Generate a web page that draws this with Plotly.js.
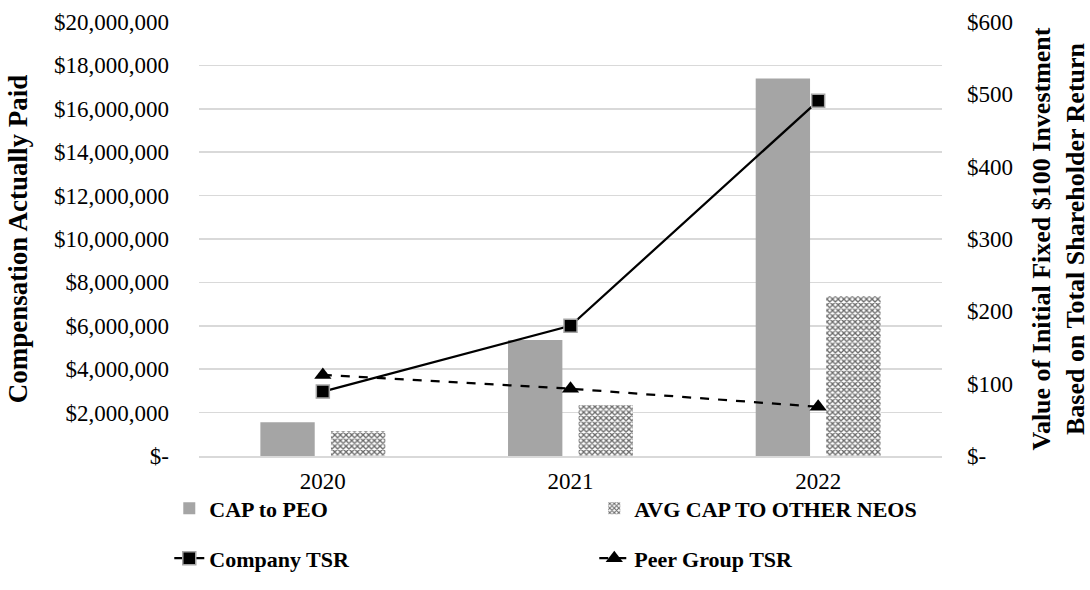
<!DOCTYPE html>
<html>
<head>
<meta charset="utf-8">
<script src="https://cdn.plot.ly/plotly-3.0.1.min.js"></script>
<style>html,body{margin:0;padding:0;background:#fff;}#chart{width:1090px;height:590px;}</style>
</head>
<body>
<div id="chart"></div>
<script>
const years = ["2020", "2021", "2022"];
const capToPeo = [1550000, 5340000, 17400000];
const avgCapOtherNeos = [1140000, 2340000, 7370000];
const companyTsr = [89, 180, 491];
const peerGroupTsr = [112, 93, 68];

const leftTickVals = [0, 2000000, 4000000, 6000000, 8000000, 10000000, 12000000, 14000000, 16000000, 18000000, 20000000];
const leftTickText = ["$-", "$2,000,000", "$4,000,000", "$6,000,000", "$8,000,000", "$10,000,000", "$12,000,000", "$14,000,000", "$16,000,000", "$18,000,000", "$20,000,000"];
const rightTickVals = [0, 100, 200, 300, 400, 500, 600];
const rightTickText = ["$-", "$100", "$200", "$300", "$400", "$500", "$600"];

const FONT = "Liberation Serif, Times New Roman, serif";

const traces = [
  {
    type: "bar", name: "CAP to PEO", x: years, y: capToPeo,
    marker: {color: "#a5a5a5"}, legend: "legend", yaxis: "y"
  },
  {
    type: "bar", name: "AVG CAP TO OTHER NEOS", x: years, y: avgCapOtherNeos,
    marker: {color: "#ffffff", pattern: {shape: "x", fgcolor: "#6a6a6a", bgcolor: "#ffffff", size: 4, solidity: 0.55}},
    legend: "legend", yaxis: "y"
  },
  {
    type: "scatter", mode: "lines+markers", name: "Company TSR", x: years, y: companyTsr,
    line: {color: "#000000", width: 2.25},
    marker: {symbol: "square", size: 13, color: "#000000", line: {color: "#a5a5a5", width: 1.5}},
    legend: "legend2", yaxis: "y2"
  },
  {
    type: "scatter", mode: "lines+markers", name: "Peer Group TSR", x: years, y: peerGroupTsr,
    line: {color: "#000000", width: 2.25, dash: "dash"},
    marker: {symbol: "triangle-up", size: 15, color: "#000000"},
    legend: "legend2", yaxis: "y2"
  }
];

const legendCommon = {
  orientation: "h", xanchor: "left", yanchor: "middle", x: -0.04,
  entrywidth: 380, entrywidthmode: "pixels",
  font: {family: FONT, size: 22, color: "#000", weight: "bold"},
  bgcolor: "rgba(0,0,0,0)", itemclick: false, itemdoubleclick: false
};

const layout = {
  width: 1090, height: 590,
  margin: {l: 199, r: 148, t: 22, b: 133},
  paper_bgcolor: "#ffffff", plot_bgcolor: "#ffffff",
  font: {family: FONT, size: 23, color: "#000"},
  barmode: "group", bargap: 0.43, bargroupgap: 0.23,
  showlegend: true,
  legend: Object.assign({}, legendCommon, {y: -0.118}),
  legend2: Object.assign({}, legendCommon, {y: -0.233}),
  xaxis: {
    type: "category", showgrid: false, showline: true, linecolor: "#d9d9d9", linewidth: 1.5,
    ticks: "", ticklabelstandoff: 4, tickfont: {family: FONT, size: 23, color: "#000"}
  },
  yaxis: {
    range: [0, 20000000], tickvals: leftTickVals, ticktext: leftTickText,
    showgrid: true, gridcolor: "#d9d9d9", gridwidth: 1.5, zeroline: false, showline: false,
    ticks: "", ticklabelstandoff: 29, tickfont: {family: FONT, size: 23, color: "#000"},
    title: {text: "Compensation Actually Paid", font: {family: FONT, size: 27, weight: "bold", color: "#000"}, standoff: 18}
  },
  yaxis2: {
    range: [0, 600], tickvals: rightTickVals, ticktext: rightTickText,
    overlaying: "y", side: "right", showgrid: false, zeroline: false, showline: false,
    ticks: "", ticklabelstandoff: 24, tickfont: {family: FONT, size: 23, color: "#000"},
    title: {text: "Value of Initial Fixed $100 Investment<br>Based on Total Shareholder Return", font: {family: FONT, size: 26, weight: "bold", color: "#000"}, standoff: 25}
  }
};

Plotly.newPlot("chart", traces, layout, {displayModeBar: false, staticPlot: true});
</script>
</body>
</html>
